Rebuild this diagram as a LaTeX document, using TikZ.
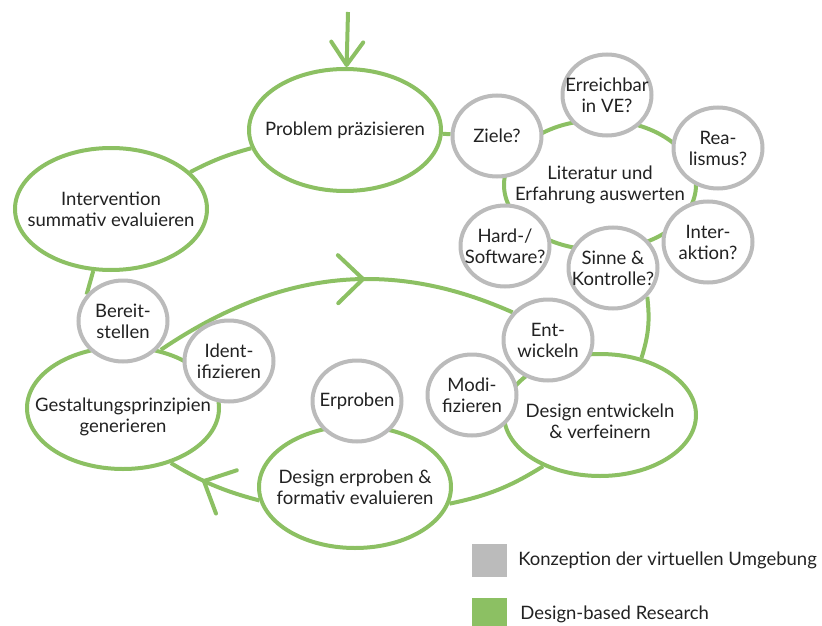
\documentclass[tikz,border=0pt]{standalone}
\usepackage{fontspec}
\setmainfont{Lato}
\usepackage{tikz}
\usetikzlibrary{arrows.meta,positioning,shapes.geometric,decorations.markings,backgrounds}
\definecolor{dbr}{HTML}{8CC063}
\definecolor{konz}{HTML}{BBBBBB}
\definecolor{ink}{HTML}{222222}

\begin{document}
\begin{tikzpicture}[x=1pt,y=-1pt,line width=4pt,
  every node/.style={font=\fontsize{18.5}{21}\selectfont,text=ink,align=center},
  phase/.style={ellipse,draw=dbr,fill=white,inner xsep=-50pt,inner ysep=0pt,minimum width=192pt,minimum height=122pt},
  task/.style={ellipse,draw=konz,fill=white,inner xsep=-24pt,inner ysep=0pt,minimum width=89pt,minimum height=81pt},
  flow/.style={draw=dbr,line width=4pt},
  midarrow/.style={postaction={decorate},decoration={markings,mark=at position #1 with {\arrow{Straight Barb[length=25pt,width=48pt,round]}}}},
  key/.style={minimum width=35pt,minimum height=33pt,inner sep=0pt}]
\useasboundingbox (0,0) rectangle (822,626);
% phases of the design-based research cycle
\node[phase] (problem) at (345,130) {Problem präzisieren};
\node[phase] (summativ) at (111,209) {Intervention\\summativ evaluieren};
\node[phase,minimum height=130pt] (literatur) at (600,185) {Literatur und\\Erfahrung auswerten};
\node[phase,label={[yshift=-9pt]center:Gestaltungsprinzipien\\generieren}] (gestaltung) at (123,408) {};
\node[phase] (erproben) at (355,487) {Design erproben \&\\formativ evaluieren};
\node[phase,label={[yshift=-6pt]center:Design entwickeln\\\& verfeinern}] (entwickeln) at (600,415) {};
% steps of the virtual environment
\node[task] (ziele) at (497,136) {Ziele?};
\node[task] (erreichbar) at (607,95) {Erreichbar\\in VE?};
\node[task] (realismus) at (718,148) {Rea-\\lismus?};
\node[task] (interaktion) at (708,242) {Inter-\\aktion?};
\node[task] (sinne) at (613,268) {Sinne \&\\Kontrolle?};
\node[task] (hardware) at (505,246) {Hard-/\\Software?};
\node[task] (entw) at (548,340) {Ent-\\wickeln};
\node[task] (modifizieren) at (472,395) {Modi-\\fizieren};
\node[task] (erprob) at (357,401) {Erproben};
\node[task] (identifizieren) at (229,361) {Ident-\\ifizieren};
\node[task] (bereitstellen) at (123,321) {Bereit-\\stellen};
\begin{scope}[on background layer]
\coordinate (start) at (348,12);
\draw[flow,-{Straight Barb[length=23pt,width=32pt,round]}] (start) -- (problem);
\draw[flow] (problem) -- (ziele);
\draw[flow] (problem.191) to[bend right=6] (summativ.25);
\draw[flow] (summativ.254) -- (bereitstellen.144);
\draw[flow,midarrow=0.59] (gestaltung.57) to[out=34,in=156] (entw.142);
\draw[flow] (sinne.320) to[bend left=12] (entwickeln.54);
\draw[flow] (entwickeln.222) to[bend left=10] (erproben.350);
\draw[flow,midarrow=0.63] (erproben.188) to[bend left=8] (gestaltung.311);
\end{scope}
% legend
\node[key,fill=konz] (keykonz) at (489.5,560) {};
\node[right=4pt of keykonz] (labkonz) {Konzeption der virtuellen Umgebung};
\node[key,fill=dbr] (keydbr) at (489.5,614) {};
\node[right=6pt of keydbr] (labdbr) {Design-based Research};
\end{tikzpicture}
\end{document}
